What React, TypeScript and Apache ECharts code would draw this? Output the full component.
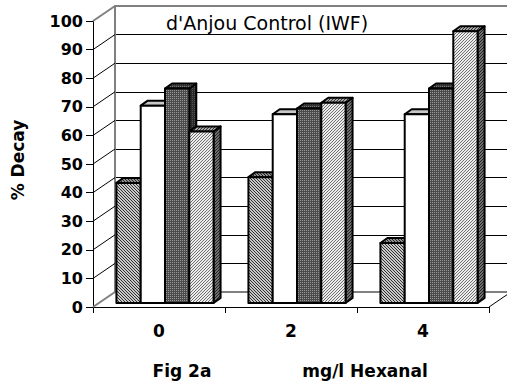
import React, { useEffect, useRef } from 'react';
import * as echarts from 'echarts';

const categories = ['0', '2', '4'];
const series1 = [42, 44, 21];
const series2 = [69, 66, 66];
const series3 = [75, 68, 75];
const series4 = [60, 70, 95];
const yTicks = [0, 10, 20, 30, 40, 50, 60, 70, 80, 90, 100];
const yMin = 0;
const yMax = 100;
const yInterval = 10;
const titleText = "d'Anjou Control (IWF)";
const yAxisName = '% Decay';
const figLabel = 'Fig 2a';
const xAxisName = 'mg/l Hexanal';

const FONT = '"DejaVu Sans", "Liberation Sans", Arial, sans-serif';
const FRONT_LEFT = 93;
const FRONT_TOP = 21;
const PLOT_W = 396;
const PLOT_H = 286;
const DEPTH_X = 22;
const DEPTH_Y = 15;
const BAR_SHIFT_X = 6;
const BAR_SHIFT_Y = 4;
const BAR_DX = 7;
const BAR_DY = 5;
const BAR_FRAC = 0.184;

function makeTile(size: number, bg: string, fg: string, pixels: number[][]) {
  const c = document.createElement('canvas');
  c.width = size;
  c.height = size;
  const ctx = c.getContext('2d')!;
  ctx.fillStyle = bg;
  ctx.fillRect(0, 0, size, size);
  ctx.fillStyle = fg;
  pixels.forEach(([x, y]) => ctx.fillRect(x, y, 1, 1));
  return { image: c, repeat: 'repeat', imageWidth: size, imageHeight: size } as any;
}

const backslash = [0, 1, 2].map((i) => [i, i]);
const slash = [0, 1, 2].map((i) => [2 - i, i]);
const dots = [[0, 0]];

export default function App() {
  const ref = useRef<HTMLDivElement>(null);
  useEffect(() => {
    if (!ref.current) return;
    const chart = echarts.init(ref.current, undefined, { renderer: 'svg' });

    const fills = [
      {
        front: makeTile(3, '#c8c8c8', '#303030', backslash),
        top: makeTile(3, '#909090', '#222', backslash),
        side: makeTile(3, '#707070', '#222', backslash),
      },
      { front: '#ffffff', top: '#c8c8c8', side: '#9a9a9a' },
      {
        front: makeTile(2, '#4a4a4a', '#9a9a9a', dots),
        top: makeTile(2, '#383838', '#777', dots),
        side: makeTile(2, '#2a2a2a', '#555', dots),
      },
      {
        front: makeTile(3, '#ececec', '#707070', slash),
        top: makeTile(3, '#a8a8a8', '#333', slash),
        side: makeTile(3, '#707070', '#222', slash),
      },
    ];

    const makeBar = (sIdx: number) => (params: any, api: any) => {
      const ci = api.value(0);
      const v = api.value(1);
      const base = api.coord([ci, 0]);
      const top = api.coord([ci, v]);
      const band = api.size([1, 0])[0];
      const bw = band * BAR_FRAC;
      const x = base[0] - 2 * bw + sIdx * bw;
      const ty = top[1];
      const by = base[1];
      const st = { stroke: '#000', lineWidth: 2, lineJoin: 'round' };
      const f = fills[sIdx];
      return {
        type: 'group',
        children: [
          {
            type: 'polygon',
            shape: { points: [[x + bw, ty], [x + bw + BAR_DX, ty - BAR_DY], [x + bw + BAR_DX, by - BAR_DY], [x + bw, by]] },
            style: { fill: f.side, ...st },
          },
          {
            type: 'polygon',
            shape: { points: [[x, ty], [x + BAR_DX, ty - BAR_DY], [x + bw + BAR_DX, ty - BAR_DY], [x + bw, ty]] },
            style: { fill: f.top, ...st },
          },
          {
            type: 'rect',
            shape: { x, y: ty, width: bw, height: by - ty },
            style: { fill: f.front, ...st },
          },
        ],
      };
    };

    const sideWall = (params: any, api: any) => {
      const v = api.value(1);
      const p = api.coord([0, v]);
      const band = api.size([1, 0])[0];
      const x0 = p[0] - band / 2;
      const edge = v === yMin || v === yMax;
      const children: any[] = [
        {
          type: 'line',
          shape: { x1: x0, y1: p[1], x2: x0 + DEPTH_X, y2: p[1] - DEPTH_Y },
          style: { stroke: edge ? '#808080' : '#000', lineWidth: edge ? 2 : 1 },
        },
      ];
      if (v === yMin) {
        const xr = x0 + band * categories.length;
        children.push({
          type: 'line',
          shape: { x1: xr, y1: p[1], x2: xr + DEPTH_X, y2: p[1] - DEPTH_Y },
          style: { stroke: '#000', lineWidth: 1 },
        });
      }
      return { type: 'group', children };
    };

    const allSeries = [series1, series2, series3, series4];

    chart.setOption({
      animation: false,
      backgroundColor: '#ffffff',
      grid: [
        { left: FRONT_LEFT, top: FRONT_TOP, width: PLOT_W, height: PLOT_H },
        { left: FRONT_LEFT + DEPTH_X, top: FRONT_TOP - DEPTH_Y, width: PLOT_W, height: PLOT_H },
        { left: FRONT_LEFT + BAR_SHIFT_X, top: FRONT_TOP - BAR_SHIFT_Y, width: PLOT_W, height: PLOT_H },
      ],
      xAxis: [
        {
          gridIndex: 0,
          type: 'category',
          data: categories,
          boundaryGap: true,
          axisLine: { lineStyle: { color: '#000', width: 1 } },
          axisTick: { show: true, length: 6, lineStyle: { color: '#000' } },
          axisLabel: { fontFamily: FONT, fontWeight: 'bold', fontSize: 17, color: '#000', margin: 15 },
          splitLine: { show: false },
        },
        {
          gridIndex: 1,
          type: 'category',
          data: categories,
          axisLine: { lineStyle: { color: '#808080', width: 2 } },
          axisTick: { show: false },
          axisLabel: { show: false },
          splitLine: { show: false },
        },
        {
          gridIndex: 1,
          type: 'category',
          position: 'top',
          data: categories,
          axisLine: { lineStyle: { color: '#808080', width: 2 } },
          axisTick: { show: false },
          axisLabel: { show: false },
          splitLine: { show: false },
        },
        {
          gridIndex: 2,
          type: 'category',
          data: categories,
          show: false,
        },
      ],
      yAxis: [
        {
          gridIndex: 0,
          type: 'value',
          min: yMin,
          max: yMax,
          interval: yInterval,
          axisLine: { show: true, lineStyle: { color: '#000', width: 1 } },
          axisTick: { show: true, length: 7, lineStyle: { color: '#000' } },
          axisLabel: { fontFamily: FONT, fontWeight: 'bold', fontSize: 16, color: '#000', margin: 10 },
          splitLine: { show: false },
        },
        {
          gridIndex: 1,
          type: 'value',
          min: yMin,
          max: yMax,
          interval: yInterval,
          axisLine: { show: true, lineStyle: { color: '#808080', width: 2 } },
          axisTick: { show: false },
          axisLabel: { show: false },
          splitLine: { show: true, showMinLine: false, showMaxLine: false, lineStyle: { color: '#000', width: 1 } },
        },
        {
          gridIndex: 2,
          type: 'value',
          min: yMin,
          max: yMax,
          show: false,
          splitLine: { show: false },
        },
      ],
      graphic: [
        {
          type: 'text',
          left: 166,
          top: 13,
          style: { text: titleText, font: `normal 19px ${FONT}`, fill: '#000' },
          z: 10,
        },
        {
          type: 'text',
          x: 18,
          y: 160,
          rotation: Math.PI / 2,
          style: { text: yAxisName, font: `bold 17px ${FONT}`, fill: '#000', align: 'center', verticalAlign: 'middle' },
        },
        {
          type: 'text',
          x: 182,
          y: 371,
          style: { text: figLabel, font: `bold 17px ${FONT}`, fill: '#000', align: 'center', verticalAlign: 'middle' },
        },
        {
          type: 'text',
          x: 365,
          y: 371,
          style: { text: xAxisName, font: `bold 17px ${FONT}`, fill: '#000', align: 'center', verticalAlign: 'middle' },
        },
      ],
      series: [
        {
          type: 'custom',
          xAxisIndex: 0,
          yAxisIndex: 0,
          z: 1,
          silent: true,
          data: yTicks.map((v) => [0, v]),
          encode: { x: 0, y: 1 },
          renderItem: sideWall,
        },
        ...allSeries.map((vals, sIdx) => ({
          type: 'custom',
          name: `s${sIdx + 1}`,
          xAxisIndex: 3,
          yAxisIndex: 2,
          z: 5,
          data: vals.map((v, i) => [i, v]),
          encode: { x: 0, y: 1 },
          renderItem: makeBar(sIdx),
        })),
      ],
    });
    return () => chart.dispose();
  }, []);
  return <div ref={ref} style={{ position: 'absolute', left: 0, top: 0, width: 507, height: 387, background: '#fff' }} />;
}
